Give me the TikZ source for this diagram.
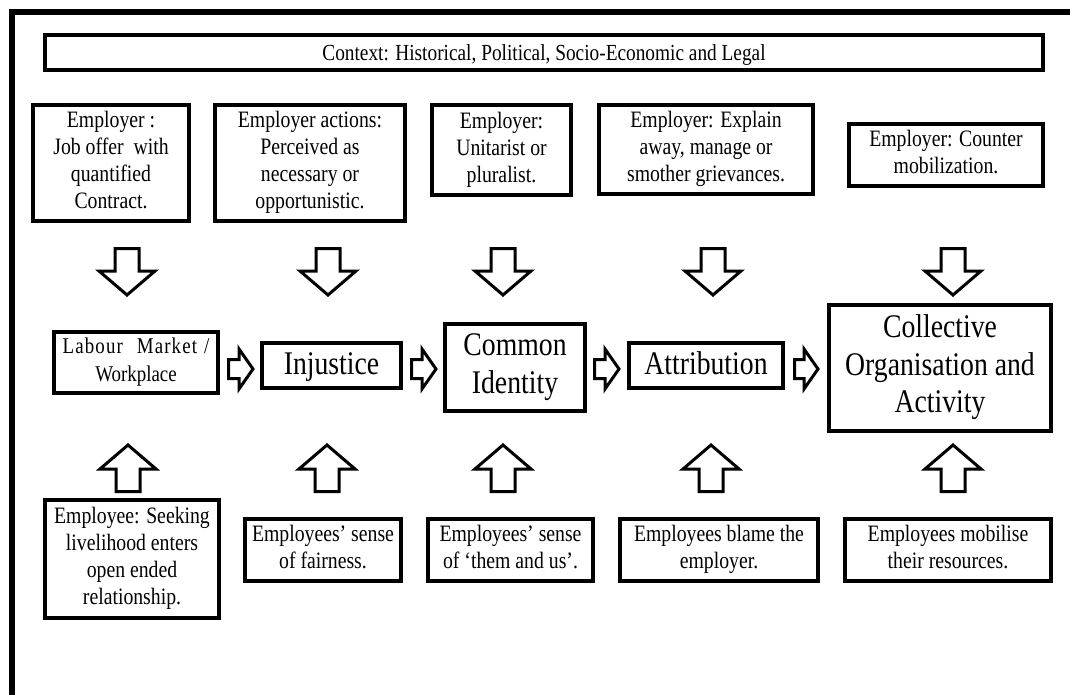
\documentclass[tikz,border=0pt]{standalone}
\usepackage{fontspec}
\setmainfont{Liberation Serif}[FakeStretch=0.84]
\usetikzlibrary{calc}
\begin{document}
\begin{tikzpicture}[x=1pt,y=-1pt,
  box/.style={draw, line width=3.5pt, inner sep=0pt, align=center,
    font=\fontsize{23.5}{27}\selectfont,
    execute at begin node={\rule[-6pt]{0pt}{29pt}},
    execute at end node={\rule[-6pt]{0pt}{29pt}}},
  stage/.style={draw, line width=3.5pt, inner sep=0pt, align=center,
    font=\fontsize{33}{37.5}\selectfont,
    execute at begin node={\rule[-8pt]{0pt}{34.5pt}},
    execute at end node={\rule[-8pt]{0pt}{34.5pt}}},
  % hollow block arrow from the start point (tail) to the target point (tip)
  block/.style={draw, line width=3pt, line join=miter, to path={
    ($(\tikztostart)!\bsw!90:(\tikztotarget)$)
    -- ($($(\tikztotarget)!\bhl!(\tikztostart)$)!\bsw!-90:(\tikztostart)$)
    -- ($($(\tikztotarget)!\bhl!(\tikztostart)$)!\bhw!-90:(\tikztostart)$)
    -- (\tikztotarget)
    -- ($($(\tikztotarget)!\bhl!(\tikztostart)$)!\bhw!90:(\tikztostart)$)
    -- ($($(\tikztotarget)!\bhl!(\tikztostart)$)!\bsw!90:(\tikztostart)$)
    -- ($(\tikztostart)!\bsw!-90:(\tikztotarget)$)
    -- cycle}},
  vblock/.style={block, /utils/exec={\def\bsw{12pt}\def\bhw{28pt}\def\bhl{24pt}}},
  hblock/.style={block, /utils/exec={\def\bsw{9.5pt}\def\bhw{20pt}\def\bhl{14pt}}},
]
\useasboundingbox (0,0) rectangle (1070,695);

% outer frame (left and top sides)
\draw[line width=6pt, line join=miter] (12,695) -- (12,12) -- (1070,12);

% context banner
\node[box, minimum width=998pt, minimum height=35pt, font=\fontsize{23}{27}\selectfont]
  (ctx) at (544,52.5) {Context: Historical, Political, Socio-Economic and Legal};

% employer side
\node[box, minimum width=156pt, minimum height=116pt] (t1) at (111,163)
  {Employer :\\Job offer~ with\\quantified\\Contract.};
\node[box, minimum width=190pt, minimum height=116pt] (t2) at (310,163)
  {Employer actions:\\Perceived as\\necessary or\\opportunistic.};
\node[box, minimum width=139pt, minimum height=90pt] (t3) at (501.5,150)
  {Employer:\\Unitarist or\\pluralist.};
\node[box, minimum width=214pt, minimum height=89pt] (t4) at (706,149.5)
  {Employer: Explain\\away, manage or\\smother grievances.};
\node[box, minimum width=194pt, minimum height=62pt] (t5) at (946,155)
  {Employer: Counter\\mobilization.};

% main sequence
\node[box, minimum width=164pt, minimum height=61pt, font=\fontsize{22.5}{27.5}\selectfont]
  (m1) at (136,362.5)
  {{\addfontfeatures{LetterSpace=5}Labour\hspace{14pt}Market\hspace{7pt}/}\\Workplace};
\node[stage, minimum width=139pt, minimum height=45pt] (m2) at (331.5,365.5) {Injustice};
\node[stage, minimum width=140pt, minimum height=87pt] (m3) at (515,367.5) {Common\\Identity};
\node[stage, minimum width=154pt, minimum height=45pt] (m4) at (706,365.5) {Attribution};
\node[stage, minimum width=222pt, minimum height=126pt] (m5) at (940,368)
  {Collective\\Organisation and\\Activity};

% employee side
\node[box, minimum width=174pt, minimum height=118pt] (b1) at (132,559)
  {Employee: Seeking\\livelihood enters\\open ended\\relationship.};
\node[box, minimum width=156pt, minimum height=62pt] (b2) at (323,550)
  {Employees’ sense\\of fairness.};
\node[box, minimum width=165pt, minimum height=62pt] (b3) at (510.5,550)
  {Employees’ sense\\of ‘them and us’.};
\node[box, minimum width=198pt, minimum height=62pt] (b4) at (719,550)
  {Employees blame the\\employer.};
\node[box, minimum width=206pt, minimum height=62pt] (b5) at (948,550)
  {Employees mobilise\\their resources.};

% arrow end points
\foreach \i/\x in {1/127,2/328,3/503,4/713,5/953}{
  \coordinate (d\i s) at (\x,248.5);
  \coordinate (d\i e) at (\x,295);
}
\foreach \i/\x in {1/128,2/327,3/503,4/711,5/953}{
  \coordinate (u\i s) at (\x,491.5);
  \coordinate (u\i e) at (\x,445);
}
\foreach \i/\a/\b in {1/228.5/253,2/411.5/436,3/594.5/619,4/794.5/818}{
  \coordinate (r\i s) at (\a,369);
  \coordinate (r\i e) at (\b,369);
}

% employer influences
\foreach \i in {1,...,5}{ \draw[vblock] (d\i s) to (d\i e); }
% employee influences
\foreach \i in {1,...,5}{ \draw[vblock] (u\i s) to (u\i e); }
% progression along the sequence
\foreach \i in {1,...,4}{ \draw[hblock] (r\i s) to (r\i e); }
\end{tikzpicture}
\end{document}
